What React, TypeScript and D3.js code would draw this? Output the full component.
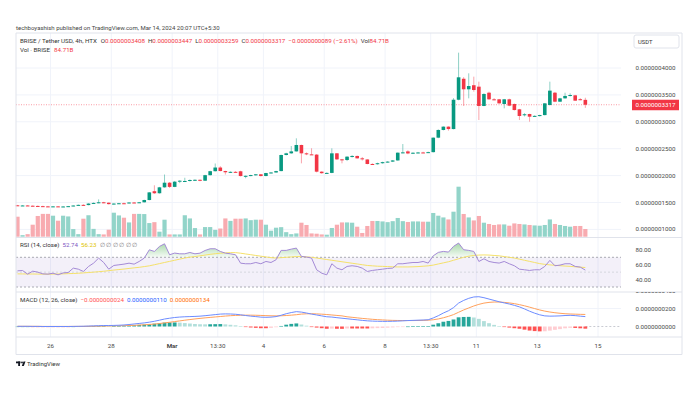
import React from "react";
import * as d3 from "d3";

// ---- data (price units: 1e-10 USDT) ----
const opens = [1448,1442,1445,1440,1436,1432,1428,1424,1428,1424,
1426,1432,1444,1456,1452,1480,1492,1504,1496,1470,
1480,1486,1484,1500,1494,1504,1546,1710,1672,1782,
1868,1790,1887,1895,1900,1918,1922,1905,2008,2082,
2150,2085,2062,2070,2080,1992,1996,2010,2024,1992,
2048,2058,2084,2383,2414,2450,2569,2414,2395,2390,
2073,2045,2050,2414,2302,2290,2352,2365,2321,2300,
2216,2212,2230,2250,2260,2282,2426,2450,2412,2425,
2430,2428,2436,2705,2848,2910,2865,3410,3800,3604,
3680,3653,3294,3541,3418,3418,3331,3418,3331,3232,
3125,3145,3100,3110,3125,3312,3541,3374,3436,3480,
3492,3420,3408];
const highs = [1455,1450,1452,1446,1444,1440,1436,1432,1434,1432,
1436,1448,1462,1466,1486,1500,1558,1512,1500,1486,
1492,1496,1506,1508,1510,1552,1694,1820,1790,2020,
1880,1900,1915,1960,1930,1930,1928,2015,2090,2225,
2175,2090,2078,2082,2090,2002,2015,2030,2030,2052,
2066,2090,2390,2425,2550,2693,2575,2430,2508,2400,
2080,2060,2507,2420,2310,2360,2380,2372,2345,2305,
2228,2240,2258,2268,2290,2430,2587,2470,2432,2440,
2442,2445,2710,2860,2915,2915,3440,4285,3830,3901,
3839,3746,3530,3560,3440,3425,3425,3430,3340,3240,
3160,3150,3120,3130,3350,3746,3555,3445,3541,3530,
3500,3440,3447];
const lows = [1440,1435,1436,1430,1428,1422,1420,1418,1420,1416,
1420,1428,1440,1446,1448,1474,1486,1488,1462,1462,
1474,1478,1480,1488,1490,1500,1540,1660,1665,1775,
1770,1785,1860,1880,1890,1900,1895,1900,2000,2075,
2080,2020,2050,2058,1985,1950,1988,2000,1985,1988,
2040,2052,2080,2375,2405,2445,2228,2380,2385,2060,
2035,2038,2045,2290,2228,2270,2335,2315,2280,2210,
2200,2205,2222,2242,2252,2276,2415,2398,2405,2415,
2420,2420,2430,2695,2840,2835,2860,3400,3294,3436,
3560,3033,3290,3410,3400,3335,3250,3290,3210,3033,
3100,3002,3090,3100,3118,3305,3365,3370,3430,3470,
3388,3400,3259];
const closes = [1442,1445,1440,1436,1432,1428,1424,1428,1424,1426,
1432,1444,1456,1452,1480,1492,1504,1496,1470,1480,
1486,1484,1500,1494,1504,1546,1688,1672,1782,1868,
1790,1887,1905,1900,1918,1922,1905,2008,2082,2150,
2085,2062,2070,2066,1992,1996,2010,2024,1992,2048,
2058,2084,2383,2414,2450,2569,2414,2395,2390,2073,
2045,2050,2414,2302,2290,2352,2365,2321,2318,2216,
2212,2230,2250,2260,2282,2426,2432,2412,2425,2430,
2428,2436,2705,2848,2910,2865,3410,3827,3604,3665,
3591,3294,3517,3418,3410,3343,3418,3300,3219,3108,
3140,3095,3110,3125,3343,3579,3374,3436,3480,3498,
3393,3408,3317];
// volume in billions BRISE
const volumes = [220,17,28,132,228,251,251,231,176,231,
223,84,28,198,236,86,28,25,77,264,
234,209,157,251,251,249,150,160,55,187,
25,25,25,236,201,95,25,106,106,75,
90,201,174,198,198,201,182,187,187,132,
66,99,105,50,28,36,154,129,36,33,
25,22,96,132,157,157,154,110,41,118,
173,173,168,160,171,206,171,162,168,168,
165,165,261,231,212,190,275,550,250,212,
179,228,154,140,129,135,135,121,146,140,
135,129,124,121,129,190,140,129,118,110,
118,118,84.71];
const rsi = [51.8,52.2,47.3,51.3,50,47.7,47.3,48.6,46.4,49,
49.5,55.4,54,50.9,57.6,62.1,68.9,63,54,59,
59.9,60.8,62.1,60.8,64.4,68.9,80.1,77.9,84.6,88.2,
73.4,75.7,74.7,74.7,76.5,74.7,75.6,79.2,81.5,81.5,
77.9,75.6,74.7,73.4,62.1,61.3,61.3,63,61.3,64.4,
63,66.7,79.3,79.3,81,82.4,71.2,70.3,69,53.2,
48.6,46.4,61.3,55.4,53.2,57.7,58.6,57.7,55.4,50.9,
52.3,53.2,54,55,55.4,61.3,61.3,62.2,63,63,
64.4,62.2,72,76.6,77.9,77,84.7,89.2,80.2,79.3,
77.9,64.4,68,64.4,63,62.2,64.4,61.3,58.6,54,
53.2,52.3,53.2,53.2,57.7,65.8,58.6,59.5,61.3,61.3,
57.7,56.8,52.74];
const rsiMA = [47.7,47.6,47.5,47.5,47.4,47.3,47.3,47.4,47.5,47.7,
48,48.2,48.5,49,49.5,50,50.6,51.2,52,52.8,
53.5,54.2,55,55.8,56.5,57.5,58.5,60,61.5,63,
64.5,66,67.5,69,70.2,71,72,73,74,74.8,
75.5,76,76.3,76.3,75.5,74.5,73.5,72.5,71.5,70.5,
69.5,69,69.5,70,70.5,71,71,70.5,70,69,
68,67,66,65,64,63,62,61,60,59,
58.5,58,57.8,57.5,57.2,57,57,57,57.2,57.5,
58,58.5,59.5,61,62.5,64,66,68,70,71.5,
72.5,73,73.2,73,72.5,72,71,70,69,67.5,
66,64.5,63,61.5,60.5,59.8,59.2,58.7,58.2,57.8,
57.2,56.7,56.23];
const macd = [2,2,2,1,1,0,0,0,0,0,0,1,2,3,5,7,
9,11,11,12,14,17,22,28,34,40,48,58,70,
83,92,100,105,108,110,112,115,120,126,132,138,140,139,136,130,
122,115,110,104,102,104,110,125,142,155,165,
160,150,138,
128,118,108,105,98,92,86,80,74,68,63,60,58,57,57,58,60,63,66,68,70,72,75,
95,120,150,175,210,260,290,313,
328,331,320,305,290,275,262,250,235,218,195,170,148,130,118,115,116,118,122,124,121,115,110];
const signal = [2,2,2,2,2,1,1,1,1,1,1,1,1,1,2,3,
4,5,6,7,8,9,11,13,16,19,23,27,33,
40,47,55,62,70,77,84,90,96,101,106,111,116,120,123,125,
126,126,125,123,121,119,118,119,122,126,131,
138,141,142,
140,137,133,128,123,118,
108,102,96,90,85,80,76,73,70,68,67,66,66,66,67,68,70,
75,84,97,113,132,158,184,206,
228,246,260,268,272,272,268,262,254,243,230,215,199,184,171,161,153,147,142,139,137,135,134];
const hist = [0,0,0,-1,-1,-1,-1,-1,-1,-1,-1,0,1,2,3,4,
5,6,5,5,6,8,11,15,18,21,25,31,37,
43,45,45,43,38,33,28,25,24,25,26,27,24,19,13,5,
-4,-11,-15,-19,-19,-15,-8,6,20,29,34,
22,9,-4,
-12,-19,-25,-23,-25,-26,
-22,-22,-22,-22,-22,-20,-18,-16,-13,-10,-7,-3,0,2,3,4,5,
20,36,53,62,78,102,106,107,
100,85,60,37,18,3,-6,-12,-19,-25,-35,-45,-51,-54,-53,-46,-37,-29,-20,-15,-16,-20,-24];

const priceTicks = [1000,1500,2000,2500,3000,3500,4000];
const rsiTicks = [40,60,80];
const macdTicks = [0,200,400];
const timeTickPos = [6.5,18.5,30.5,39.5,48.5,60.5,72.5,81.5,90.5,102.5,114.5];
const timeTickLabels = ["26","28","Mar","13:30","4","6","8","13:30","11","13","15"];
const lastPrice = 3317;

const fmt10 = (v: number) => (v * 1e-10).toFixed(10);
const GREEN = "#089981", RED = "#f23645";
const FONT = "Roboto, 'Noto Sans', sans-serif";

export default function App() {
  const L = 16, R = 621, AR = 682;
  const TOP = 33, MAINB = 237.5, RSIB = 292, MACDB = 337, TB = 354.5;
  const n = closes.length;
  const x = d3.scaleLinear().domain([0, n - 1]).range([17.5, 17.5 + (n - 1) * 5.07]);
  const yP = d3.scaleLinear().domain([1000, 4000]).range([229.4, 68]);
  const yV = d3.scaleLinear().domain([0, 550]).range([236.7, 186.7]);
  const yR = d3.scaleLinear().domain([30, 70]).range([287, 257.3]);
  const yM = d3.scaleLinear().domain([0, 200]).range([326.5, 308.5]);
  const idx = d3.range(n);

  const rsiLine = d3.line<number>().x((i) => x(i)).y((i) => yR(rsi[i]));
  const rsiMALine = d3.line<number>().x((i) => x(i)).y((i) => yR(rsiMA[i]));
  const obArea = d3.area<number>().x((i) => x(i)).y0(yR(70)).y1((i) => yR(Math.max(70, rsi[i])));
  const macdLine = d3.line<number>().x((i) => x(i)).y((i) => yM(macd[i]));
  const sigLine = d3.line<number>().x((i) => x(i)).y((i) => yM(signal[i]));

  const histColor = (i: number) => {
    const h = hist[i], p = i > 0 ? hist[i - 1] : h;
    if (h >= 0) return h >= p ? "#26a69a" : "#b2dfdb";
    return h <= p ? "#ff5252" : "#ffcdd2";
  };
  const grid = "#f0f3fa";
  const axisTxt = "#4a4a4a";
  const fs = 6.2;
  const lf = 6.2;

  return (
    <svg width={700} height={395} style={{ position: "absolute", left: 0, top: 0, background: "#fff" }} fontFamily={FONT}>
      <defs>
        <linearGradient id="ob" gradientUnits="userSpaceOnUse" x1="0" y1={yR(92)} x2="0" y2={yR(70)}>
          <stop offset="0" stopColor="#4caf50" stopOpacity="0.55" />
          <stop offset="1" stopColor="#4caf50" stopOpacity="0.05" />
        </linearGradient>
        <clipPath id="macdAxisClip"><rect x={R} y={RSIB} width={AR - R} height={MACDB - RSIB} /></clipPath>
        <clipPath id="plotClip"><rect x={L} y={TOP} width={R - L} height={MACDB - TOP} /></clipPath>
      </defs>
      <rect x={0} y={0} width={700} height={395} fill="#fff" />
      <text x={16} y={30} fontSize={6} fill="#444">techboyashish published on TradingView.com, Mar 14, 2024 20:07 UTC+5:30</text>

      {/* grid */}
      {priceTicks.map((p) => (
        <line key={"pg" + p} x1={L} x2={R} y1={yP(p)} y2={yP(p)} stroke={grid} strokeWidth={1} />
      ))}
      {timeTickPos.map((t, k) => (
        <line key={"tg" + k} x1={x(t)} x2={x(t)} y1={TOP} y2={MACDB} stroke={grid} strokeWidth={1} />
      ))}
      <line x1={L} x2={R} y1={yM(200)} y2={yM(200)} stroke={grid} />

      {/* volume */}
      <g clipPath="url(#plotClip)">
        {idx.map((i) => (
          <rect key={"v" + i} x={x(i) - 2.1} width={4.2} y={yV(volumes[i])} height={yV(0) - yV(volumes[i])}
            fill={closes[i] >= opens[i] ? "#92d4c9" : "#f8abb0"} />
        ))}
      </g>

      {/* last price line */}
      <line x1={L} x2={R} y1={yP(lastPrice)} y2={yP(lastPrice)} stroke={RED} strokeOpacity={0.7} strokeWidth={0.7} strokeDasharray="1,1.5" />

      {/* candles */}
      {idx.map((i) => {
        const up = closes[i] >= opens[i];
        const c = up ? GREEN : RED;
        const top = yP(Math.max(opens[i], closes[i]));
        const bot = yP(Math.min(opens[i], closes[i]));
        return (
          <g key={"c" + i}>
            <line x1={x(i)} x2={x(i)} y1={yP(highs[i])} y2={yP(lows[i])} stroke={c} strokeOpacity={0.45} strokeWidth={1} />
            <rect x={x(i) - 1.8} width={3.6} y={top} height={Math.max(1, bot - top)} fill={c} />
          </g>
        );
      })}

      {/* RSI pane */}
      <rect x={L} width={R - L} y={yR(70)} height={yR(30) - yR(70)} fill="#7e57c2" fillOpacity={0.09} />
      <line x1={L} x2={R} y1={yR(70)} y2={yR(70)} stroke="#9598a1" strokeDasharray="2,2" strokeWidth={0.8} />
      <line x1={L} x2={R} y1={yR(50)} y2={yR(50)} stroke="#c3c5cc" strokeDasharray="2,2" strokeWidth={0.6} />
      <line x1={L} x2={R} y1={yR(30)} y2={yR(30)} stroke="#9598a1" strokeDasharray="2,2" strokeWidth={0.8} />
      <path d={obArea(idx) || ""} fill="url(#ob)" />
      <path d={rsiMALine(idx) || ""} fill="none" stroke="#f5e16a" strokeWidth={1} />
      <path d={rsiLine(idx) || ""} fill="none" stroke="#a48ad6" strokeWidth={1} />

      {/* MACD pane */}
      <line x1={x(n - 1)} x2={R} y1={yM(0)} y2={yM(0)} stroke="#b2b5be" strokeDasharray="2,2" strokeWidth={0.7} />
      {idx.map((i) => (
        <rect key={"h" + i} x={x(i) - 1.9} width={3.8}
          y={Math.min(yM(0), yM(hist[i]))} height={Math.max(0.6, Math.abs(yM(hist[i]) - yM(0)))} fill={histColor(i)} />
      ))}
      <path d={sigLine(idx) || ""} fill="none" stroke="#ffa15c" strokeWidth={1} />
      <path d={macdLine(idx) || ""} fill="none" stroke="#6d8cff" strokeWidth={1} />

      {/* frame */}
      <line x1={L} x2={AR} y1={TOP} y2={TOP} stroke="#e0e3eb" />
      <line x1={L} x2={AR} y1={MAINB} y2={MAINB} stroke="#e0e3eb" />
      <line x1={L} x2={AR} y1={RSIB} y2={RSIB} stroke="#e0e3eb" />
      <line x1={L} x2={AR} y1={MACDB} y2={MACDB} stroke="#e0e3eb" />
      <line x1={L} x2={AR} y1={TB} y2={TB} stroke="#e0e3eb" />
      <line x1={L} x2={L} y1={TOP} y2={TB} stroke="#e0e3eb" />
      <line x1={AR} x2={AR} y1={TOP} y2={TB} stroke="#e0e3eb" />

      {/* legends */}
      <text x={20} y={43} fontSize={lf} fill="#333">
        <tspan>BRISE / Tether USD, 4h, HTX</tspan>
        <tspan dx={4}>O</tspan><tspan fill={RED}>{fmt10(opens[n - 1])}</tspan>
        <tspan dx={3}>H</tspan><tspan fill={RED}>{fmt10(highs[n - 1])}</tspan>
        <tspan dx={3}>L</tspan><tspan fill={RED}>{fmt10(lows[n - 1])}</tspan>
        <tspan dx={3}>C</tspan><tspan fill={RED}>{fmt10(closes[n - 1])}</tspan>
        <tspan dx={3} fill={RED}>−0.0000000089 (−2.61%)</tspan>
        <tspan dx={3}>Vol</tspan><tspan fill={RED}>84.71B</tspan>
      </text>
      <text x={20} y={51.5} fontSize={lf} fill="#333">
        <tspan>Vol · BRISE</tspan><tspan dx={4} fill={RED}>84.71B</tspan>
      </text>
      <text x={20} y={247} fontSize={lf} fill="#333">
        <tspan>RSI (14, close)</tspan>
        <tspan dx={3} fill="#7e57c2">{rsi[n - 1].toFixed(2)}</tspan>
        <tspan dx={3} fill="#e0c400">{rsiMA[n - 1].toFixed(2)}</tspan>
        <tspan dx={3} fill="#777">∅  ∅  ∅  ∅  ∅  ∅</tspan>
      </text>
      <text x={20} y={301.5} fontSize={lf} fill="#333">
        <tspan>MACD (12, 26, close)</tspan>
        <tspan dx={3} fill="#ff5252">{"−" + fmt10(Math.abs(hist[n - 1]))}</tspan>
        <tspan dx={3} fill="#2962ff">{fmt10(macd[n - 1])}</tspan>
        <tspan dx={3} fill="#ff6d00">{fmt10(signal[n - 1])}</tspan>
      </text>

      {/* right axis */}
      <rect x={634} y={35} width={45} height={13} rx={2} fill="#fff" stroke="#e0e3eb" />
      <text x={638} y={43.5} fontSize={5.8} fill="#333">USDT</text>
      {priceTicks.map((p) => (
        <text key={"pt" + p} x={635.5} y={yP(p) + 2} fontSize={fs} fill={axisTxt}>{fmt10(p)}</text>
      ))}
      <rect x={632} y={yP(lastPrice) - 5} width={47} height={10.5} fill={RED} />
      <text x={635.5} y={yP(lastPrice) + 2.2} fontSize={fs} fill="#fff">{fmt10(lastPrice)}</text>
      {rsiTicks.map((r) => (
        <text key={"rt" + r} x={635.5} y={yR(r) + 2} fontSize={fs} fill={axisTxt}>{r.toFixed(2)}</text>
      ))}
      <g clipPath="url(#macdAxisClip)">
        {macdTicks.map((m) => (
          <text key={"mt" + m} x={635.5} y={yM(m) + 2} fontSize={fs} fill={axisTxt}>{fmt10(m)}</text>
        ))}
      </g>

      {/* time axis */}
      {timeTickPos.map((t, k) => (
        <text key={"tt" + k} x={x(t)} y={348} fontSize={fs} textAnchor="middle" fill={axisTxt}
          fontWeight={timeTickLabels[k] === "Mar" ? "bold" : "normal"}>{timeTickLabels[k]}</text>
      ))}

      {/* logo */}
      <g fill="#131722">
        <rect x={16} y={361.5} width={4.5} height={1.8} />
        <rect x={18.2} y={361.5} width={1.8} height={4.5} />
        <circle cx={22} cy={362.4} r={0.9} />
        <path d="M23.5 361.5 L25.5 361.5 L23.8 366 L21.8 366 Z" />
      </g>
      <text x={27} y={366} fontSize={6} fill="#333">TradingView</text>
    </svg>
  );
}
